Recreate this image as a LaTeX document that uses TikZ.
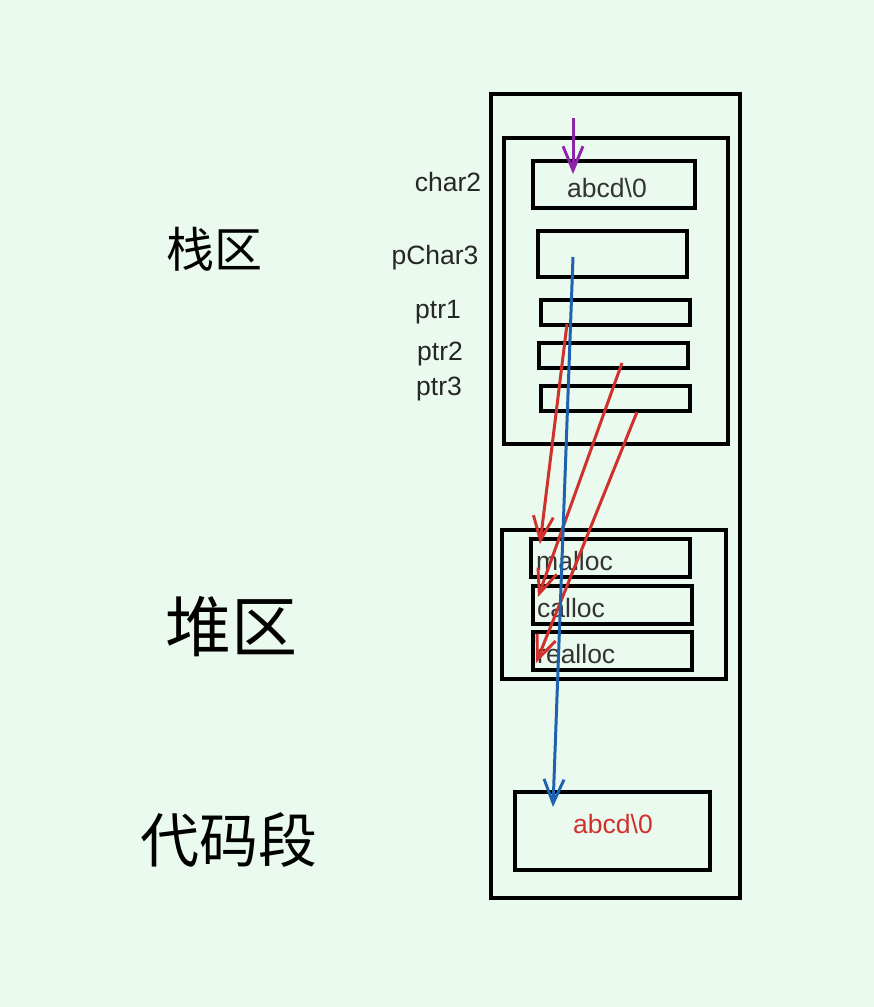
\documentclass[tikz,border=0pt]{standalone}
\usepackage{fontspec}
\setmainfont{Liberation Sans}
\newfontfamily\cjk{Noto Sans CJK SC}
\usetikzlibrary{arrows.meta,positioning}
\definecolor{bgmint}{RGB}{235,250,238}
\definecolor{ptrred}{RGB}{208,49,45}
\definecolor{ptrblue}{RGB}{30,99,176}
\definecolor{ptrpurple}{RGB}{142,36,170}

\begin{document}
\begin{tikzpicture}[
  x=1pt, y=-1pt,
  font=\fontsize{26.5}{29}\selectfont,
  % memory boxes
  membox/.style={draw=black, line width=3.2pt, inner sep=0pt},
  cell/.style={membox, line width=3.1pt},
  varlabel/.style={text=black!85, inner sep=0pt},
  celltext/.style={text=black!80, inner sep=0pt},
  zonelabel/.style={font=\cjk, inner sep=0pt},
  % pointers
  ptr/.style={line width=3pt, -{Straight Barb[length=24pt,width=20pt,line width=2.9pt]}},
  redptr/.style={ptr, draw=ptrred},
  blueptr/.style={ptr, draw=ptrblue},
  purpleptr/.style={ptr, draw=ptrpurple}
]
  \fill[bgmint] (0,0) rectangle (874,1007);
  \useasboundingbox (0,0) rectangle (874,1007);

  % =============================================================
  % outer memory column
  % =============================================================
  \node[membox, minimum width=249pt, minimum height=804pt] (mem) at (615.5,496) {};

  % --- stack area ---
  \node[membox, minimum width=224pt, minimum height=306pt] (stack) at (616,291) {};
  \node[zonelabel, font=\cjk\fontsize{48}{50}\selectfont] (lstack) at (214,249) {栈区};

  \node[cell, minimum width=162pt, minimum height=47pt] (char2) at (614,184.5) {};
  \node[celltext] (char2txt) at (607,188) {abcd\textbackslash 0};
  \node[cell, minimum width=149pt, minimum height=46pt] (pchar3) at (612.5,254) {};
  \node[cell, minimum width=149pt, minimum height=25pt] (ptr1) at (615.5,312.5) {};
  \node[cell, minimum width=149pt, minimum height=25pt] (ptr2) at (613.5,355.5) {};
  \node[cell, minimum width=149pt, minimum height=25pt] (ptr3) at (615.5,398.5) {};

  \node[varlabel] (lchar2) at (448,182) {char2};
  \node[varlabel] (lpchar3) at (435,258) {pChar3};
  \node[varlabel] (lptr1) at (438,312) {ptr1};
  \node[varlabel] (lptr2) at (440,354) {ptr2};
  \node[varlabel] (lptr3) at (439,389) {ptr3};

  % --- heap area ---
  \node[membox, minimum width=224pt, minimum height=149pt] (heap) at (614,604.5) {};
  \node[zonelabel, font=\cjk\fontsize{66}{68}\selectfont] (lheap) at (231,627) {堆区};

  \node[cell, minimum width=159pt, minimum height=38pt] (malloc) at (610.5,558) {};
  \node[cell, minimum width=159pt, minimum height=38pt] (calloc) at (612.5,605) {};
  \node[cell, minimum width=159pt, minimum height=38pt] (realloc) at (612.5,651) {};
  \node[celltext, anchor=west] (malloctxt) at (536,561) {malloc};
  \node[celltext, anchor=west] (calloctxt) at (537,608) {calloc};
  \node[celltext, anchor=west] (realloctxt) at (537,654) {realloc};

  % --- code segment ---
  \node[membox, minimum width=195pt, minimum height=78pt] (code) at (612.5,831) {};
  \node[zonelabel, font=\cjk\fontsize{59}{61}\selectfont] (lcode) at (229,840) {代码段};
  \node[celltext, text=ptrred] (codetxt) at (613,824) {abcd\textbackslash 0};

  % =============================================================
  % pointers
  % =============================================================
  \coordinate (pTop) at (573,118);
  \coordinate (pTopEnd) at (573,174);
  \coordinate (p3From) at (573,257);
  \coordinate (p3To) at (553,807);
  \coordinate (r1From) at (567,324);
  \coordinate (r1To) at (540,544);
  \coordinate (r2From) at (622,363);
  \coordinate (r2To) at (538,597);
  \coordinate (r3From) at (637,412);
  \coordinate (r3To) at (536,663);

  \draw[purpleptr] (pTop) -- (pTopEnd);
  \draw[redptr] (r1From) -- (r1To);
  \draw[redptr] (r2From) -- (r2To);
  \draw[redptr] (r3From) -- (r3To);
  \draw[blueptr] (p3From) -- (p3To);
\end{tikzpicture}
\end{document}
